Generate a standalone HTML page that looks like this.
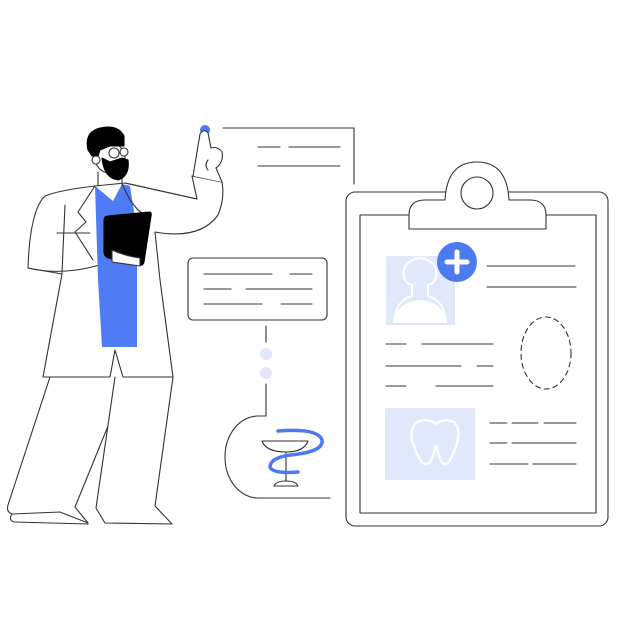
<!DOCTYPE html>
<html><head><style>html,body{margin:0;padding:0;background:#fff}svg{display:block}</style></head>
<body>
<svg width="640" height="640" viewBox="0 0 640 640" xmlns="http://www.w3.org/2000/svg" fill="none" stroke="#333" stroke-width="1.1" stroke-linecap="round" stroke-linejoin="round">
<!-- connector top -->
<circle cx="205" cy="130" r="5" fill="#4c7bf0" stroke="none"/>
<path d="M223,128 H354 V184"/>
<path d="M258,147 H280 M289,147 H340 M258,166 H340"/>
<!-- middle box -->
<rect x="188" y="258" width="139" height="62" rx="5"/>
<path d="M204,274 H272 M290,274 H312 M204,289 H231 M246,289 H312 M204,304 H262 M281,304 H312"/>
<path d="M266,326 V342 M266,384 V416"/>
<circle cx="266" cy="354" r="6" fill="#e2e8fa" stroke="none"/>
<circle cx="266" cy="373" r="6" fill="#e2e8fa" stroke="none"/>
<path d="M266,416 H258 A33,41 0 0 0 258,498 H330"/>
<!-- chalice -->
<path d="M262,441 H308 Q304,452 286,452 Q266,452 262,441 Z" fill="#fff"/>
<path d="M286,452 V483"/>
<path d="M274,486 Q276,481 286,481 Q296,481 298,486 Z" fill="#fff"/>
<path d="M278,431 Q318,428 322,440 Q324,452 290,455 Q270,458 270,467 Q272,474 298,472" stroke="#4c7bf0" stroke-width="3.5"/>
<!-- clipboard -->
<rect x="346" y="192" width="262" height="334" rx="9" fill="#fff"/>
<rect x="360" y="215" width="236" height="298"/>
<path d="M409,229 V215 Q409,200 425,200 H445 Q447,162 477,162 Q507,162 509,200 H530 Q546,200 546,215 V229 Z" fill="#fff"/>
<circle cx="477" cy="193" r="16" fill="#fff"/>
<rect x="386" y="256" width="69" height="69" fill="#e1e8fc" stroke="none"/>
<g fill="#fff" stroke="none">
<path d="M394,322 Q396,300 412,296 V285 Q402,282 404,270 Q406,260 420,258 Q434,260 436,270 Q438,282 428,285 V296 Q444,300 446,322 Z" fill="none" stroke="#fff" stroke-width="2"/>
<path d="M394,322 Q396,302 420,300 Q444,302 446,322 Z"/>
</g>
<circle cx="457" cy="262" r="20" fill="#4c7bf0" stroke="none"/>
<path d="M457,252 V272 M447,262 H467" stroke="#fff" stroke-width="5"/>
<path d="M487,266 H575 M487,287 H576"/>
<ellipse cx="546" cy="353" rx="25" ry="36" stroke-dasharray="5,4"/>
<path d="M386,344 H406 M422,344 H493 M386,366 H461 M477,366 H493 M386,386 H406 M436,386 H493"/>
<rect x="385" y="408" width="90" height="72" fill="#e1e8fc" stroke="none"/>
<path d="M417,422 Q430,418 436,424 Q442,418 454,422 Q462,430 456,446 Q450,464 445,464 Q440,464 437,448 Q436,444 435,448 Q432,464 426,464 Q420,464 414,446 Q408,430 417,422 Z" stroke="#fff" stroke-width="2.5"/>
<path d="M490,423 H507 M512,423 H538 M544,423 H576 M490,443 H507 M512,443 H576 M490,464 H528 M533,464 H576"/>
<!-- doctor -->
<!-- pants -->
<path d="M50,377 L8,505 Q6,512 12,514 L60,512 L88,523 L75,507 L128,377" fill="#fff"/>
<path d="M115,377 L96,508 L105,523 L172,524 L155,506 L173,377" fill="#fff"/>
<path d="M12,514 Q8,520 14,522 L88,524"/>
<!-- coat -->
<path d="M95,186 Q60,190 45,196 Q30,210 28,268 L62,274 L43,377 L110,377 L115,350 L123,377 L173,377 L160,280 L155,232 Q200,240 218,215 Q225,198 222,182 L192,176 L197,199 L125,183 Z" fill="#fff"/>
<path d="M28,268 Q60,276 100,265 M65,205 L62,273 M57,233 L90,233"/>
<!-- blue scrub -->
<path d="M95,186 L113,201 L122,184 L130,186 L137,230 L137,347 L102,347 L98,280 Z" fill="#4f7cf5" stroke="none"/>
<!-- lapels -->
<path d="M95,186 L78,212 L86,222 L75,232 L93,260 M122,184 L130,200 L138,210 L145,215" fill="none"/>
<!-- arm sleeve line -->
<path d="M125,183 L197,199 M192,176 L222,182"/>
<!-- hand -->
<path d="M193,176 L200,134 Q204,128 208,133 L211,148 Q218,146 222,152 Q224,162 216,168 L222,182" fill="#fff"/>
<path d="M208,160 Q204,165 208,170"/>
<!-- tablet -->
<path d="M108,216 L149,212 Q152,212 151,216 L144,262 Q143,266 139,265 L108,258 Q104,256 104,252 L104,220 Q104,216 108,216 Z" fill="#000" stroke="#000"/>
<path d="M112,250 Q125,256 140,258 L140,266 L112,262 Z" fill="#fff"/>
<!-- neck -->
<path d="M98,172 V186 M122,170 V184"/>
<!-- head -->
<circle cx="110" cy="158" r="15" fill="#fff"/>
<path d="M88,150 Q84,132 100,128 Q118,124 124,136 L124,146 L110,146 L100,150 L98,156 L92,156 Z" fill="#000" stroke="#000"/>
<path d="M102,158 Q104,178 118,180 Q130,176 128,160 L122,158 L110,162 Z" fill="#000" stroke="#000"/>
<circle cx="96" cy="160" r="4" fill="#fff"/>
<circle cx="114" cy="153" r="5" fill="#fff"/>
<circle cx="124" cy="152" r="4" fill="#fff"/>
</svg>
</body></html>
